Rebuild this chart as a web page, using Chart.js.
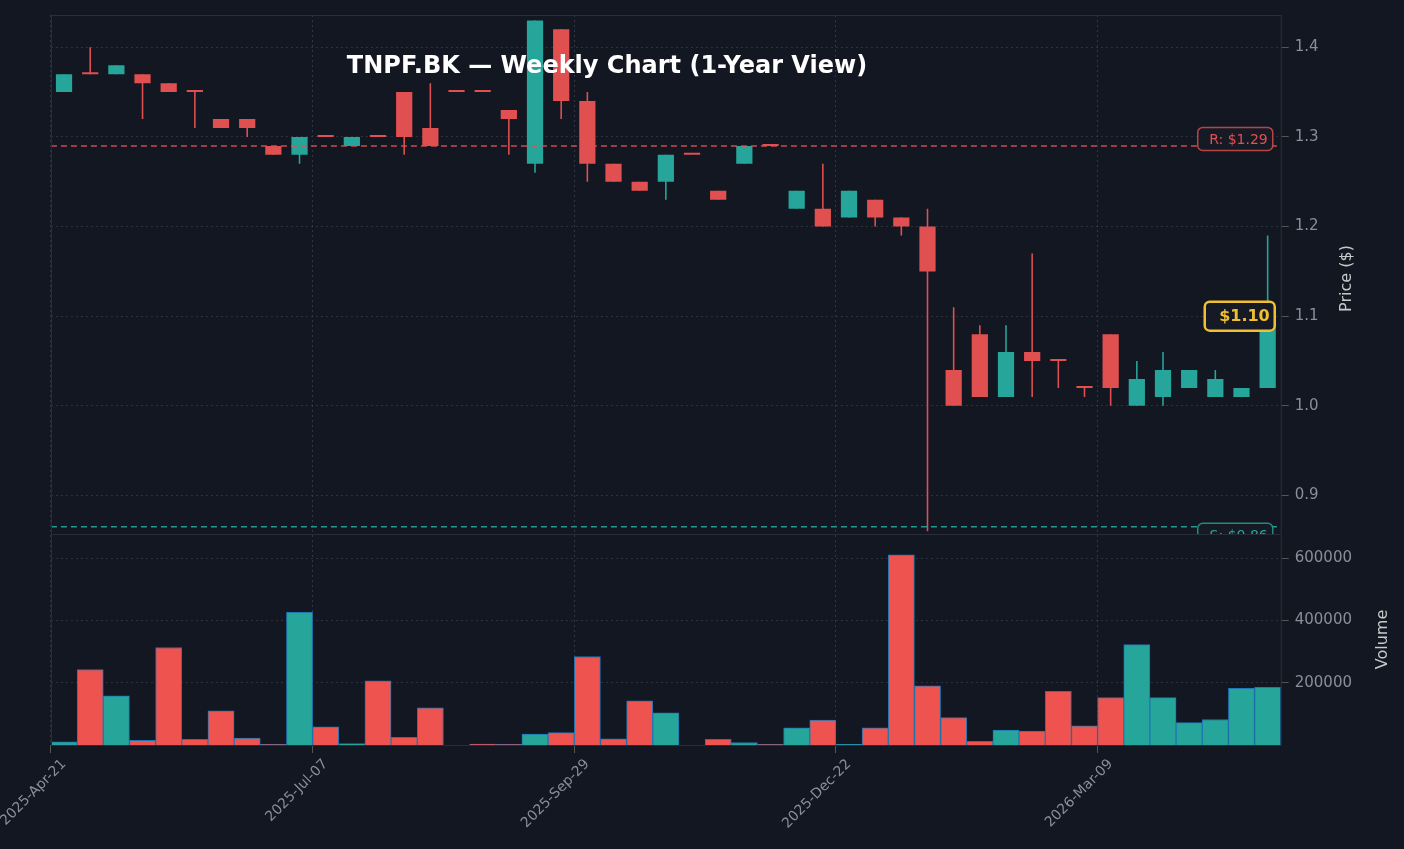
<!DOCTYPE html>
<html><head><meta charset="utf-8">
<script src="https://cdn.jsdelivr.net/npm/chart.js@4"></script>
<style>html,body{margin:0;background:#131722;}#w{width:1404px;height:849px;}</style>
</head><body><div id="w"><canvas id="c"></canvas></div>
<script>
const labels = ["2025-Apr-21","2025-Apr-28","2025-May-05","2025-May-12","2025-May-19","2025-May-26","2025-Jun-02","2025-Jun-09","2025-Jun-16","2025-Jun-23",
"2025-Jul-07","2025-Jul-14","2025-Jul-21","2025-Jul-28","2025-Aug-04","2025-Aug-18","2025-Aug-25","2025-Sep-01","2025-Sep-08","2025-Sep-22",
"2025-Sep-29","2025-Oct-06","2025-Oct-20","2025-Oct-27","2025-Nov-03","2025-Nov-10","2025-Nov-17","2025-Nov-24","2025-Dec-08","2025-Dec-15",
"2025-Dec-22","2026-Jan-05","2026-Jan-12","2026-Jan-19","2026-Jan-26","2026-Feb-02","2026-Feb-09","2026-Feb-16","2026-Feb-23","2026-Mar-02",
"2026-Mar-09","2026-Mar-16","2026-Mar-23","2026-Mar-30","2026-Apr-06","2026-Apr-13","2026-Apr-20"];
const opens  = [1.35,1.37,1.37,1.37,1.36,1.35,1.32,1.32,1.29,1.28,1.30,1.29,1.30,1.35,1.31,1.35,1.35,1.33,1.27,1.42,1.34,1.27,1.25,1.25,1.28,1.24,1.27,1.29,1.22,1.22,1.21,1.23,1.21,1.20,1.04,1.08,1.01,1.06,1.05,1.02,1.08,1.00,1.01,1.02,1.01,1.01,1.02];
const highs  = [1.37,1.40,1.38,1.37,1.36,1.35,1.32,1.32,1.29,1.30,1.30,1.30,1.30,1.35,1.36,1.35,1.35,1.33,1.43,1.42,1.35,1.27,1.25,1.28,1.28,1.24,1.29,1.29,1.24,1.27,1.24,1.23,1.21,1.22,1.11,1.09,1.09,1.17,1.05,1.02,1.08,1.05,1.06,1.04,1.04,1.02,1.19];
const lows   = [1.35,1.37,1.37,1.32,1.35,1.31,1.31,1.30,1.28,1.27,1.30,1.29,1.30,1.28,1.29,1.35,1.35,1.28,1.26,1.32,1.25,1.25,1.24,1.23,1.28,1.23,1.27,1.29,1.22,1.20,1.21,1.20,1.19,0.86,1.00,1.01,1.01,1.01,1.02,1.01,1.00,1.00,1.00,1.02,1.01,1.01,1.02];
const closes = [1.37,1.37,1.38,1.36,1.35,1.35,1.31,1.31,1.28,1.30,1.30,1.30,1.30,1.30,1.29,1.35,1.35,1.32,1.43,1.34,1.27,1.25,1.24,1.28,1.28,1.23,1.29,1.29,1.24,1.20,1.24,1.21,1.20,1.15,1.00,1.01,1.06,1.05,1.05,1.02,1.02,1.03,1.04,1.04,1.03,1.02,1.10];
const volumes = [10000,242000,158000,15000,313000,18000,110000,22000,2000,426000,58000,5000,206000,25000,119000,0,3000,2000,35000,40000,284000,20000,142000,103000,0,18000,8000,2000,55000,80000,2000,55000,610000,190000,88000,12000,48000,45000,172000,62000,152000,322000,152000,72000,82000,182000,185000];
const priceTicks = [0.9,1.0,1.1,1.2,1.3,1.4];
const volumeTicks = [200000,400000,600000];
const resistance = 1.29, support = 0.865, lastPrice = 1.10;

const GREEN='#26a69a', RED='#e05050', VRED='#ef5350';
const candleColor = opens.map((o,i)=> closes[i]>o ? GREEN : RED);
const volColor = opens.map((o,i)=> closes[i]>o ? GREEN : VRED);

const overlay = {
  id:'overlay',
  afterDatasetsDraw(ch){
    const ctx=ch.ctx, y=ch.scales.y;
    const left=ch.scales.x.left, right=ch.scales.x.right;
    ctx.save();
    ctx.beginPath(); ctx.rect(left,y.top,right-left,y.bottom-y.top); ctx.clip();
    ctx.setLineDash([6,4]); ctx.lineWidth=1.5;
    let ry=y.getPixelForValue(resistance);
    ctx.strokeStyle='rgba(224,80,80,0.9)'; ctx.beginPath(); ctx.moveTo(left,ry); ctx.lineTo(right,ry); ctx.stroke();
    let sy=y.getPixelForValue(support);
    ctx.strokeStyle='rgba(38,166,154,0.9)'; ctx.beginPath(); ctx.moveTo(left,sy); ctx.lineTo(right,sy); ctx.stroke();
    ctx.setLineDash([]);
    function box(x0,yc,w,h,border,txt,col,font){
      ctx.fillStyle='#161a25'; ctx.strokeStyle=border;
      ctx.beginPath(); ctx.roundRect(x0,yc-h/2,w,h,5); ctx.fill(); ctx.stroke();
      ctx.fillStyle=col; ctx.font=font; ctx.textAlign='right'; ctx.textBaseline='middle';
      ctx.fillText(txt,x0+w-5,yc+1);
    }
    ctx.lineWidth=1.5;
    box(right-83,ry-7,75,23,'rgba(224,80,80,0.8)','R: $1.29','#e05050','14px "DejaVu Sans"');
    box(right-83,sy+8,75,23,'rgba(38,166,154,0.8)','S: $0.86','#26a69a','14px "DejaVu Sans"');
    let ly=y.getPixelForValue(lastPrice);
    ctx.lineWidth=2.5;
    box(right-76,ly,70,29,'#f0c030','$1.10','#f0c030','bold 16px "DejaVu Sans"');
    ctx.fillStyle='#ffffff'; ctx.font='bold 24px "DejaVu Sans"'; ctx.textAlign='center'; ctx.textBaseline='middle';
    ctx.fillText('TNPF.BK — Weekly Chart (1-Year View)',607,67);
    ctx.restore();
    ctx.save();
    ctx.fillStyle='#c8c8c8'; ctx.font='16px "DejaVu Sans"'; ctx.textAlign='center'; ctx.textBaseline='middle';
    ctx.translate(1347,(y.top+y.bottom)/2+4); ctx.rotate(-Math.PI/2); ctx.fillText('Price ($)',0,0); ctx.restore();
    const v=ch.scales.yv;
    ctx.save(); ctx.fillStyle='#c8c8c8'; ctx.font='16px "DejaVu Sans"'; ctx.textAlign='center'; ctx.textBaseline='middle';
    ctx.translate(1383,(v.top+v.bottom)/2); ctx.rotate(-Math.PI/2); ctx.fillText('Volume',0,0); ctx.restore();
    ctx.save(); ctx.strokeStyle='#2a2e39'; ctx.lineWidth=1;
    ctx.strokeRect(left+0.5,y.top+0.5,right-left,v.bottom-y.top);
    ctx.beginPath(); ctx.moveTo(left,y.bottom+0.5); ctx.lineTo(right,y.bottom+0.5); ctx.stroke();
    ctx.restore();
  }
};

new Chart(document.getElementById('c'),{
  type:'bar',
  data:{labels,datasets:[
    {label:'wick',data:lows.map((l,i)=>[l,highs[i]]),yAxisID:'y',backgroundColor:candleColor,barPercentage:0.06,categoryPercentage:1,grouped:false,order:2},
    {label:'body',data:opens.map((o,i)=>[o,closes[i]]),yAxisID:'y',backgroundColor:candleColor,borderWidth:0,barPercentage:0.62,categoryPercentage:1,grouped:false,minBarLength:2,order:1},
    {label:'vol',data:volumes,yAxisID:'yv',backgroundColor:volColor,borderColor:'#1f77b4',borderWidth:1,barPercentage:1,categoryPercentage:1,grouped:false,order:3}
  ]},
  options:{
    responsive:true,maintainAspectRatio:false,animation:false,
    layout:{padding:{left:0,top:9,right:46,bottom:14}},
    plugins:{legend:{display:false},tooltip:{enabled:false}},
    scales:{
      x:{offset:true,grid:{color:(c)=>c.index%10===0?'rgba(80,85,100,0.5)':'transparent',tickColor:(c)=>c.index%10===0?'#555':'transparent'},
        border:{display:false,dash:[2,3]},
        ticks:{autoSkip:false,maxRotation:45,minRotation:45,color:'#8a8e99',font:{size:14,family:'DejaVu Sans'},callback:(v,i)=>i%10===0?labels[i]:''}},
      y:{position:'right',stack:'p',stackWeight:2.46,min:0.857,max:1.436,
        afterBuildTicks:(s)=>{s.ticks=priceTicks.map(v=>({value:v}));},
        grid:{color:'rgba(80,85,100,0.45)',tickColor:'#555'},border:{display:false,dash:[2,3]},
        ticks:{color:'#8a8e99',font:{size:15,family:'DejaVu Sans'},callback:(v)=>v.toFixed(1),padding:6}},
      yv:{position:'right',stack:'p',stackWeight:1,min:0,max:677000,offset:false,
        afterBuildTicks:(s)=>{s.ticks=volumeTicks.map(v=>({value:v}));},
        grid:{color:'rgba(80,85,100,0.45)',tickColor:'#555'},border:{display:false,dash:[2,3]},
        ticks:{color:'#8a8e99',font:{size:15,family:'DejaVu Sans'},callback:(v)=>String(v),padding:6}}
    }
  },
  plugins:[overlay]
});
</script></body></html>
